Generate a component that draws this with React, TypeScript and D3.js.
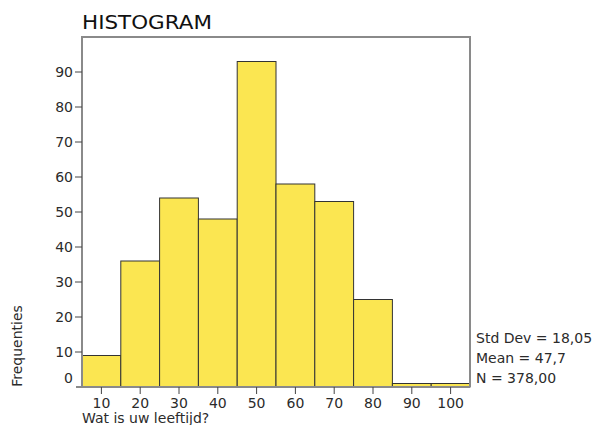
import * as d3 from "d3";

// bin centres (ages) and counts
const binCenters = [10, 20, 30, 40, 50, 60, 70, 80, 90, 100];
const counts = [9, 36, 54, 48, 93, 58, 53, 25, 1, 1];
const yTicks = [0, 10, 20, 30, 40, 50, 60, 70, 80, 90];
const statLines = ["Std Dev = 18,05", "Mean = 47,7", "N = 378,00"];

const W = 592;
const H = 425;
const margin = { top: 37, right: 122, bottom: 38, left: 82 };
const binWidth = 10;

export default function App() {
  const innerW = W - margin.left - margin.right;
  const innerH = H - margin.top - margin.bottom;

  const x = d3.scaleLinear().domain([5, 105]).range([0, innerW]);
  const y = d3.scaleLinear().domain([0, 100]).range([innerH, 0]);

  const font = "'DejaVu Sans', sans-serif";
  const axisColor = "#8a8a8a";
  const textColor = "#2b2b2b";

  return (
    <svg
      width={W}
      height={H}
      style={{ position: "absolute", left: 0, top: 0, background: "#fff" }}
      fontFamily={font}
    >
      <text
        x={margin.left}
        y={29}
        fontSize={19}
        fill="#111"
        textLength={130}
        lengthAdjust="spacingAndGlyphs"
      >
        HISTOGRAM
      </text>

      <g transform={`translate(${margin.left},${margin.top})`}>
        {/* bars */}
        {counts.map((c, i) => (
          <rect
            key={i}
            x={x(binCenters[i] - binWidth / 2)}
            y={y(c)}
            width={x(binCenters[i] + binWidth / 2) - x(binCenters[i] - binWidth / 2)}
            height={innerH - y(c)}
            fill="#fbe651"
            stroke="#333"
            strokeWidth={1}
          />
        ))}

        {/* frame */}
        <path
          d={`M0,${innerH}V0H${innerW}V${innerH}`}
          fill="none"
          stroke={axisColor}
          strokeWidth={2}
        />
        <line x1={-6} x2={innerW} y1={innerH} y2={innerH} stroke={axisColor} strokeWidth={2} />

        {/* y axis */}
        {yTicks.map((t) => (
          <g key={t}>
            {t > 0 && (
              <line x1={-7} x2={0} y1={y(t)} y2={y(t)} stroke="#444" strokeWidth={1} />
            )}
            <text
              x={-9}
              y={t > 0 ? y(t) : y(t) - 9}
              dy="0.35em"
              textAnchor="end"
              fontSize={14}
              fill={textColor}
            >
              {t}
            </text>
          </g>
        ))}

        {/* x axis */}
        {binCenters.map((t) => (
          <g key={t} transform={`translate(${x(t)},${innerH})`}>
            <line y1={0} y2={7} stroke="#444" strokeWidth={1} />
            <text y={21} textAnchor="middle" fontSize={14} fill={textColor}>
              {t}
            </text>
          </g>
        ))}

        {/* stats */}
        {statLines.map((s, i) => (
          <text
            key={s}
            x={innerW + 6}
            y={innerH - 49 + i * 20}
            dy="0.35em"
            fontSize={14}
            fill={textColor}
          >
            {s}
          </text>
        ))}
      </g>

      <text x={margin.left} y={423} fontSize={14} fill={textColor}>
        Wat is uw leeftijd?
      </text>
      <text
        transform={`translate(${22},${346}) rotate(-90)`}
        textAnchor="middle"
        fontSize={14}
        fill={textColor}
      >
        Frequenties
      </text>
    </svg>
  );
}
